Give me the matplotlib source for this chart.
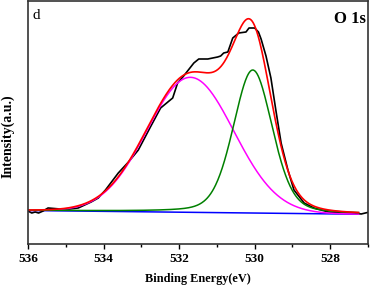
import numpy as np
import matplotlib
matplotlib.use("Agg")
import matplotlib.pyplot as plt
from matplotlib.ticker import MultipleLocator

# Experimental O 1s spectrum (binding energy, intensity a.u.)
be_exp = [536.00, 535.90, 535.81, 535.72, 535.60, 535.47, 535.15, 534.90, 534.67,
          534.33, 534.14, 533.95, 533.79, 533.61, 533.34, 533.08, 532.76, 532.49,
          532.17, 532.04, 531.88, 531.61, 531.48, 531.24, 530.98, 530.90, 530.82,
          530.71, 530.58, 530.42, 530.23, 530.15, 530.00, 529.90, 529.83, 529.70,
          529.57, 529.44, 529.30, 529.12, 528.96, 528.69, 528.43, 528.05, 527.71,
          527.36, 527.18, 526.96]
int_exp = [33, 31, 32, 31, 33, 36, 35, 35, 36,
           42, 46, 54, 62, 71, 82, 94, 117, 136,
           146, 161, 168, 181, 185, 185, 187, 188, 191,
           192, 206, 211, 212, 216, 216, 212, 205, 188,
           166, 134, 101, 74, 54, 41, 36, 32, 31,
           31, 30, 32]

# Fitted components: centre (eV), FWHM (eV), height above baseline, Lorentzian fraction
peak_centers = [531.70, 530.05]
peak_fwhm = [2.70, 1.22]
peak_heights = [135, 143]
peak_lfrac = [0.0, 0.25]
peak_colors = ["#ff00ff", "#008000"]

# Linear background endpoints (eV, intensity)
bg_be = [536.00, 527.25]
bg_int = [33.5, 29.8]


def pseudo_voigt(x, c, w, h, eta):
    g = np.exp(-4 * np.log(2) * ((x - c) / w) ** 2)
    l = 1.0 / (1.0 + 4 * ((x - c) / w) ** 2)
    return h * ((1 - eta) * g + eta * l)


fig = plt.figure(figsize=(3.70, 2.87), dpi=100)
ax = fig.add_axes([28 / 370, 43 / 287, 340 / 370, 243 / 287])

xf = np.linspace(bg_be[0], bg_be[1], 600)
bg = np.interp(xf, bg_be[::-1], bg_int[::-1])

ax.plot(bg_be, bg_int, color="#0000ff", lw=1.1)
ax.plot(be_exp, int_exp, color="black", lw=1.2)
total = bg.copy()
for c, w, h, e, col in zip(peak_centers, peak_fwhm, peak_heights, peak_lfrac, peak_colors):
    comp = pseudo_voigt(xf, c, w, h, e)
    total += comp
    ax.plot(xf, bg + comp, color=col, lw=1.1)
ax.plot(xf, total, color="#ff0000", lw=1.2)

ax.set_xlim(536, 527)
ax.set_ylim(0, 243)
ax.xaxis.set_major_locator(MultipleLocator(2))
ax.xaxis.set_minor_locator(MultipleLocator(1))
ax.set_yticks([])
ax.tick_params(axis="x", which="major", direction="out", length=3.6, width=1, pad=3,
               labelsize=9.5, colors="black")
ax.tick_params(axis="x", which="minor", direction="out", length=1.8, width=1)
for lab in ax.get_xticklabels():
    lab.set_fontweight("bold")
    lab.set_fontfamily("Liberation Serif")
for s in ax.spines.values():
    s.set_linewidth(1.2)
    s.set_color("#333333")

ax.set_xlabel("Binding Energy(eV)", fontfamily="Liberation Serif", fontweight="bold",
              fontsize=8.8, va="center")
ax.xaxis.set_label_coords(0.4985, -0.142)
ax.set_ylabel("Intensity(a.u.)", fontfamily="Liberation Serif", fontweight="bold",
              fontsize=10, va="center")
ax.yaxis.set_label_coords(-0.059, 0.444)
ax.text(0.012, 0.967, "d", transform=ax.transAxes, ha="left", va="top",
        fontfamily="Liberation Serif", fontsize=11)
ax.text(0.995, 0.959, "O 1s", transform=ax.transAxes, ha="right", va="top",
        fontfamily="Liberation Serif", fontweight="bold", fontsize=12)

fig.savefig("out.png", dpi=100)
